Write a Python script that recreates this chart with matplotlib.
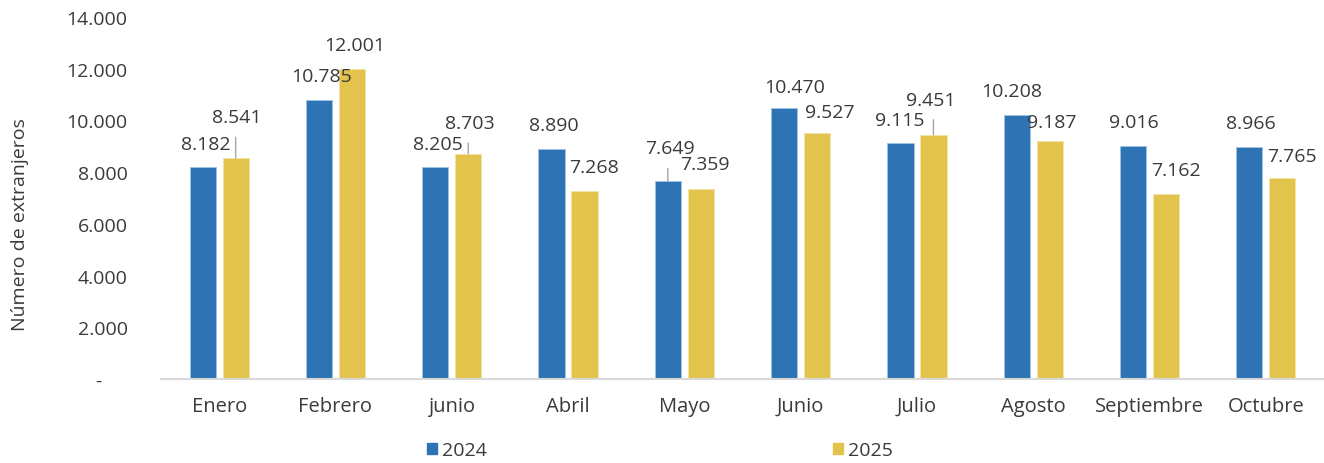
import matplotlib
matplotlib.use("Agg")
import matplotlib.pyplot as plt
from matplotlib.patches import Patch
from matplotlib.ticker import FuncFormatter
import numpy as np

plt.rcParams["font.family"] = ["Open Sans", "DejaVu Sans"]

# Monthly foreign visitors
months = ["Enero", "Febrero", "junio", "Abril", "Mayo", "Junio", "Julio",
          "Agosto", "Septiembre", "Octubre"]
values_2024 = [8182, 10785, 8205, 8890, 7649, 10470, 9115, 10208, 9016, 8966]
values_2025 = [8541, 12001, 8703, 7268, 7359, 9527, 9451, 9187, 7162, 7765]
series_names = ["2024", "2025"]

# Label offsets (pixels) from each bar top, and whether a leader line is drawn
offsets_2024 = [(3, 23), (3, 24), (3, 23), (2, 24), (2, 33), (10, 21),
                (-1, 23), (-5, 24), (1, 24), (2, 24)]
offsets_2025 = [(1, 41), (3, 24), (2, 31), (9, 24), (4, 25), (13, 21),
                (-3, 35), (2, 19), (10, 24), (10, 22)]
leader_2024 = [False, False, False, False, True, False, False, False, False, False]
leader_2025 = [True, False, True, False, False, False, True, False, False, False]

BLUE = "#2E74B5"
YELLOW = "#E2C34C"
TEXT = "#3A3A3A"
FS = 14

fig = plt.figure(figsize=(13.24, 4.64), dpi=100)
ax = fig.add_axes([161 / 1324, 1 - 380 / 464, 1 - 161 / 1324, (380 - 18) / 464])

x = np.arange(len(months))
w = 0.225
off = 0.142
ax.bar(x - off, values_2024, width=w, color=BLUE, edgecolor="#9DC3E6",
       linewidth=0.6, zorder=2)
ax.bar(x + off, values_2025, width=w, color=YELLOW, edgecolor="#F2E3A6",
       linewidth=0.6, zorder=2)


def fmt(v):
    return f"{v:,.0f}".replace(",", ".")


def label_bars(xs, vals, offs, leaders):
    for xi, v, (dx, dy), ld in zip(xs, vals, offs, leaders):
        kw = {}
        if ld:
            kw["arrowprops"] = dict(arrowstyle="-", color="#A6A6A6", lw=1.0,
                                    shrinkA=6, shrinkB=0,
                                    relpos=(0.5 - dx / 50, 0.0))
        ax.annotate(fmt(v), xy=(xi, v), xytext=(dx, dy),
                    textcoords="offset pixels", ha="center", va="center",
                    fontsize=FS, color=TEXT, zorder=3, **kw)


label_bars(x - off, values_2024, offsets_2024, leader_2024)
label_bars(x + off, values_2025, offsets_2025, leader_2025)

ax.set_xlim(-0.5, len(months) - 0.5)
ax.set_ylim(0, 14000)
ax.set_yticks(np.arange(0, 14001, 2000))
ax.yaxis.set_major_formatter(FuncFormatter(lambda v, p: "-     " if v == 0 else fmt(v)))
ax.set_xticks(x)
ax.set_xticklabels(months)
ax.tick_params(axis="both", length=0, labelsize=FS, labelcolor=TEXT)
ax.tick_params(axis="x", labelsize=14.5, pad=12)
ax.tick_params(axis="y", pad=24)

for s in ["top", "right", "left"]:
    ax.spines[s].set_visible(False)
ax.spines["bottom"].set_color("#D9D9D9")
ax.spines["bottom"].set_linewidth(1.5)

fig.text(20 / 1324, 1 - 225 / 464, "Número de extranjeros", rotation=90,
         ha="center", va="center", fontsize=14, color=TEXT)

handles = [Patch(color=BLUE), Patch(color=YELLOW)]
fig.legend(handles, series_names, loc="center", ncol=2,
           bbox_to_anchor=(660 / 1324, 1 - 451 / 464), frameon=False,
           fontsize=FS, labelcolor=TEXT, handlelength=0.5, handleheight=0.5,
           handletextpad=0.25, columnspacing=17.8)

fig.savefig("out.png", dpi=100)
